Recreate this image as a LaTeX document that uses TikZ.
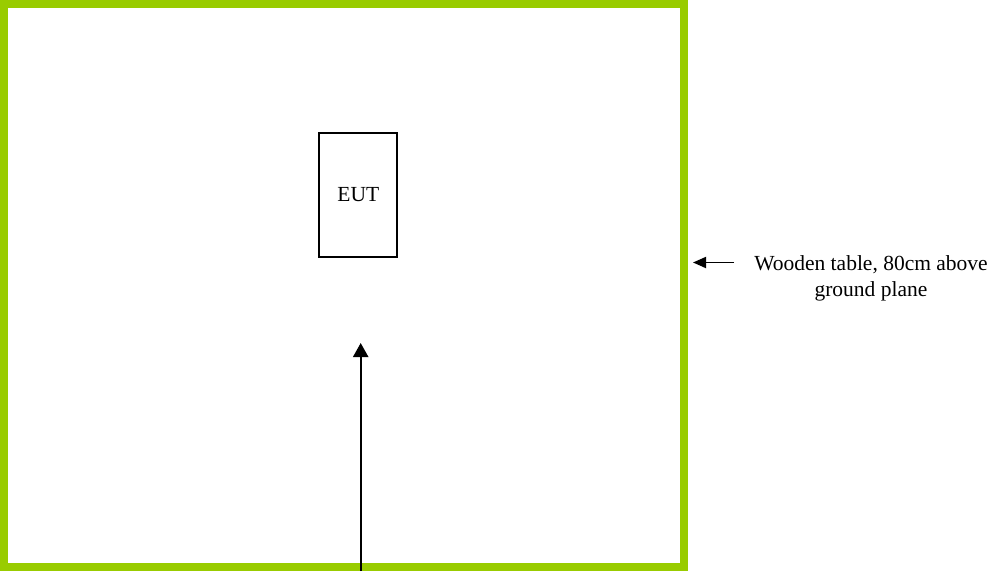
\documentclass[tikz,border=0pt]{standalone}
\usepackage{fontspec}
\setmainfont{Liberation Serif}
\usetikzlibrary{arrows.meta}
\definecolor{tablegreen}{RGB}{153,204,0}

\begin{document}
\begin{tikzpicture}[x=1pt, y=-1pt, font=\fontsize{21.5}{26}\selectfont,
	pointer/.style={line width=2.2pt, -{Triangle[length=14pt, width=15pt]}}]
	\useasboundingbox (0,0) rectangle (989,571);
	\draw[line width=8pt, tablegreen] (4,4) rectangle (683.5,567);
	\node[draw, line width=1.8pt, minimum width=78pt, minimum height=124pt, inner sep=0pt] (eut) at (358.3,195) {EUT};
	
	\node[align=center, inner sep=0pt] (tablelabel) at (871,278) {Wooden table, 80cm above\\ground plane};
	\coordinate (labeltail) at (734,262.5);
	\coordinate (tableedge) at (693,262.5);
	\draw[line width=1.8pt, -{Triangle[length=13pt, width=11pt]}] (labeltail) -- (tableedge);
	
	\coordinate (feedstart) at (360.7,571);
	\coordinate (feedtip) at (360.7,343);
	\draw[pointer] (feedstart) -- (feedtip);
\end{tikzpicture}
\end{document}
